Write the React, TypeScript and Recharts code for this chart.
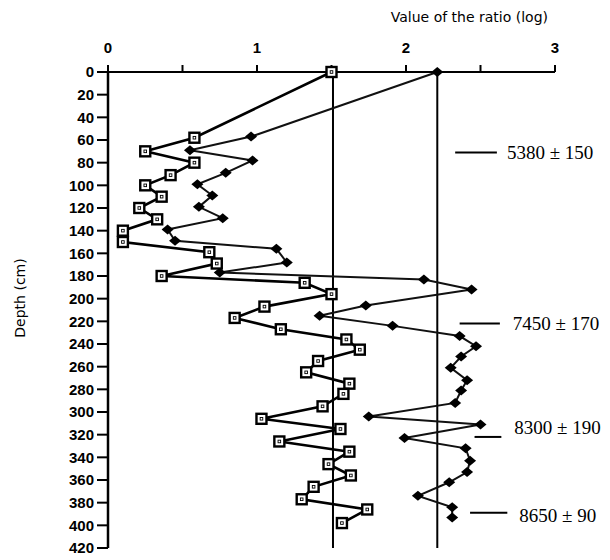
import React from 'react';
import { ScatterChart, Scatter, XAxis, YAxis, ReferenceLine, Label } from 'recharts';

// Open-square series (depth in cm, log ratio value)
const squareDepth = [0, 58, 70, 80, 91, 100, 110, 120, 130, 140, 150, 159, 169, 180, 186, 196, 207, 217, 227, 236, 245, 255, 265, 275, 284, 295, 306, 315, 326, 335, 346, 356, 366, 377, 386, 398];
const squareValue = [1.5, 0.58, 0.25, 0.58, 0.42, 0.25, 0.36, 0.21, 0.33, 0.1, 0.1, 0.68, 0.73, 0.36, 1.32, 1.5, 1.05, 0.85, 1.16, 1.6, 1.69, 1.41, 1.33, 1.62, 1.58, 1.44, 1.03, 1.56, 1.15, 1.62, 1.48, 1.63, 1.38, 1.3, 1.74, 1.57];

// Filled-diamond series
const diamondDepth = [0, 57, 69, 78, 89, 99, 109, 119, 129, 139, 149, 156, 168, 177, 183, 192, 206, 215, 224, 233, 242, 251, 261, 272, 281, 292, 304, 311, 323, 332, 343, 353, 362, 374, 384, 393];
const diamondValue = [2.21, 0.96, 0.55, 0.97, 0.79, 0.6, 0.7, 0.61, 0.77, 0.4, 0.45, 1.13, 1.2, 0.75, 2.12, 2.44, 1.73, 1.42, 1.91, 2.36, 2.47, 2.37, 2.3, 2.41, 2.37, 2.33, 1.75, 2.5, 1.99, 2.4, 2.43, 2.41, 2.29, 2.08, 2.31, 2.31];

// Vertical reference lines (mean values)
const referenceValues = [1.51, 2.21];

// Axis ticks
const xTicks = [0, 0.5, 1, 1.5, 2, 2.5, 3];
const yTicks = [0, 20, 40, 60, 80, 100, 120, 140, 160, 180, 200, 220, 240, 260, 280, 300, 320, 340, 360, 380, 400, 420];

// Dating annotations
const annotationText = ['5380 ± 150', '7450 ± 170', '8300 ± 190', '8650 ± 90'];
const annotationDepth = [71, 222, 322, 389];
const annotationStart = [2.33, 2.36, 2.46, 2.43];
const annotationEnd = [2.61, 2.63, 2.64, 2.68];
const annotationTextShift = [0, 0, -9, 3];
const annotationGap = [10, 13, 13, 12];

const xTitle = 'Value of the ratio (log)';
const yTitle = 'Depth (cm)';

const squareData = squareDepth.map((d, i) => ({ depth: d, v: squareValue[i] }));
const diamondData = diamondDepth.map((d, i) => ({ depth: d, v: diamondValue[i] }));

const tickFont = { fontSize: 15, fontWeight: 'bold', fill: '#000', fontFamily: '"Liberation Sans", Arial, sans-serif' };

const renderSquare = (props: any) => {
  const { cx, cy } = props;
  if (cx == null || cy == null) return <g />;
  return (
    <g>
      <rect x={cx - 5} y={cy - 5} width={10} height={10} fill="#fff" stroke="#000" strokeWidth={2.4} />
      <rect x={cx - 1.3} y={cy - 1.3} width={2.6} height={2.6} fill="#fff" stroke="#000" strokeWidth={0.9} />
    </g>
  );
};

const renderDiamond = (props: any) => {
  const { cx, cy } = props;
  if (cx == null || cy == null) return <g />;
  return <polygon points={`${cx},${cy - 5} ${cx + 6},${cy} ${cx},${cy + 5} ${cx - 6},${cy}`} fill="#000" />;
};

const makeAnnotationLabel = (text: string, shift: number, gap: number) => (props: any) => {
  const vb = props.viewBox || {};
  const x = (vb.x ?? 0) + (vb.width ?? 0) + gap;
  const y = (vb.y ?? 0) + shift;
  return (
    <text x={x} y={y} dominantBaseline="central" fontFamily='"Liberation Serif", "Times New Roman", serif' fontSize={19} style={{ fill: '#000' }}>
      {text}
    </text>
  );
};

const renderXTitle = (props: any) => {
  const vb = props.viewBox || {};
  return (
    <text x={(vb.x ?? 0) + (vb.width ?? 0) - 7} y={(vb.y ?? 0) - 20} textAnchor="end" fontFamily='"DejaVu Sans", sans-serif' fontSize={14} style={{ fill: '#000' }}>
      {xTitle}
    </text>
  );
};

const renderYTitle = (props: any) => {
  const vb = props.viewBox || {};
  const x = (vb.x ?? 0) + 17;
  const y = (vb.y ?? 0) + (vb.height ?? 0) / 2 - 12;
  return (
    <text x={x} y={y} transform={`rotate(-90, ${x}, ${y})`} textAnchor="middle" fontFamily='"DejaVu Sans", sans-serif' fontSize={14} style={{ fill: '#000' }}>
      {yTitle}
    </text>
  );
};

export default function App() {
  return (
    <div style={{ width: 602, height: 552, background: '#fff' }}>
      <ScatterChart width={602} height={552} margin={{ top: 34, right: 55, bottom: 12, left: 0 }}>
        <XAxis
          type="number"
          dataKey="v"
          orientation="top"
          domain={[0, 3]}
          ticks={xTicks}
          interval={0}
          height={30}
          tickFormatter={(t: number) => (Number.isInteger(t) ? String(t) : '')}
          axisLine={{ stroke: '#000', strokeWidth: 2 }}
          tickLine={{ stroke: '#000', strokeWidth: 2 }}
          tickSize={7}
          tickMargin={12}
          tick={tickFont}
        >
          <Label content={renderXTitle} />
        </XAxis>
        <YAxis
          type="number"
          dataKey="depth"
          reversed
          domain={[0, 420]}
          ticks={yTicks}
          interval={0}
          width={100}
          axisLine={{ stroke: '#000', strokeWidth: 2.5 }}
          tickLine={{ stroke: '#000', strokeWidth: 2 }}
          tickSize={11}
          tickMargin={3}
          tick={tickFont}
        >
          <Label content={renderYTitle} />
        </YAxis>
        {referenceValues.map((rv) => (
          <ReferenceLine key={'ref' + rv} x={rv} stroke="#000" strokeWidth={2} />
        ))}
        {annotationText.map((t, i) => (
          <ReferenceLine
            key={'ann' + i}
            segment={[
              { x: annotationStart[i], y: annotationDepth[i] },
              { x: annotationEnd[i], y: annotationDepth[i] },
            ]}
            stroke="#000"
            strokeWidth={2}
            ifOverflow="visible"
            label={{ content: makeAnnotationLabel(t, annotationTextShift[i], annotationGap[i]) }}
          />
        ))}
        <Scatter
          data={diamondData}
          line={{ stroke: '#111', strokeWidth: 2 }}
          lineType="joint"
          shape={renderDiamond}
          isAnimationActive={false}
        />
        <Scatter
          data={squareData}
          line={{ stroke: '#000', strokeWidth: 2.6 }}
          lineType="joint"
          shape={renderSquare}
          isAnimationActive={false}
        />
      </ScatterChart>
    </div>
  );
}
